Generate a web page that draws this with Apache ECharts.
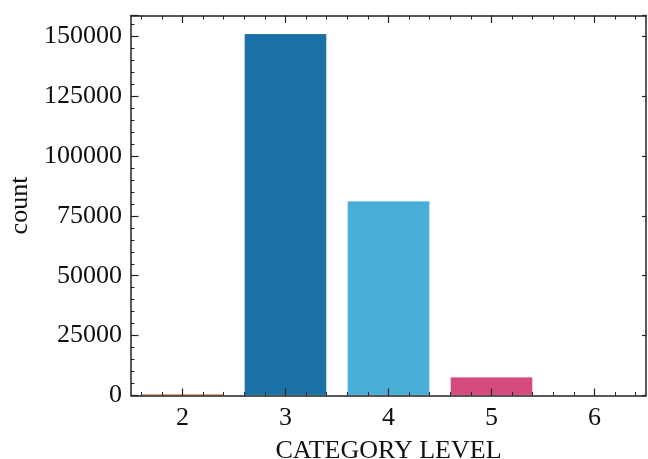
<!DOCTYPE html>
<html>
<head>
<meta charset="utf-8">
<script src="https://cdn.jsdelivr.net/npm/echarts@6/dist/echarts.min.js"></script>
<style>html,body{margin:0;padding:0;background:#fff}#c{width:648px;height:459px}</style>
</head>
<body>
<div id="c"></div>
<script>
const categories = ['2', '3', '4', '5', '6'];
const counts = [750, 151100, 81200, 7700, 20];
const barColors = ['#E8915F', '#1A71A6', '#4AAFD8', '#D6497E', '#7F7F7F'];
const yMax = 158650;
const yStep = 25000;
const minorSlots = Array.from({length: 25}, (_, i) => 'm' + i);

const FONT = 'Liberation Serif';
const AX = '#222';

const chart = echarts.init(document.getElementById('c'), null, {renderer: 'canvas'});
const hiddenLabel = {show: false};
function tickAxis(data, pos, len, width, lineShow) {
  return {
    type: 'category', data: data, position: pos, offset: 0, boundaryGap: true, z: 10,
    axisLine: {show: lineShow, onZero: false, lineStyle: {color: AX, width: 1.5}},
    axisTick: {show: true, inside: true, alignWithLabel: true, interval: 0, length: len, lineStyle: {color: AX, width: width}},
    axisLabel: hiddenLabel, splitLine: {show: false}
  };
}
const mainX = tickAxis(categories, 'bottom', 7, 1.2, true);
mainX.axisLabel = {show: true, interval: 0, fontFamily: FONT, fontSize: 26, color: '#111', margin: 10};
mainX.name = 'CATEGORY LEVEL';
mainX.nameLocation = 'middle';
mainX.nameGap = 43;
mainX.nameTextStyle = {fontFamily: FONT, fontSize: 26, color: '#111'};

chart.setOption({
  animation: false,
  backgroundColor: '#fff',
  grid: {left: 131, right: 2, top: 15.5, bottom: 63.5, containLabel: false, outerBoundsMode: 'none'},
  xAxis: [
    mainX,
    tickAxis(minorSlots, 'bottom', 3.5, 1, false),
    tickAxis(categories, 'top', 7.5, 1.2, true),
    tickAxis(minorSlots, 'top', 4, 1, false)
  ],
  yAxis: [
    {
      type: 'value', min: 0, max: yMax, interval: yStep, position: 'left', z: 10,
      axisLine: {show: true, onZero: false, lineStyle: {color: AX, width: 1.5}},
      axisTick: {show: true, inside: true, length: 7.5, lineStyle: {color: AX, width: 1.2}},
      minorTick: {show: true, splitNumber: 5, length: 3.5, lineStyle: {color: AX, width: 1}},
      axisLabel: {fontFamily: FONT, fontSize: 26, color: '#111', margin: 9, showMaxLabel: false,
                  formatter: v => String(v)},
      splitLine: {show: false}, minorSplitLine: {show: false},
      name: 'count', nameLocation: 'middle', nameGap: 97,
      nameTextStyle: {fontFamily: FONT, fontSize: 26, color: '#111'}
    },
    {
      type: 'value', min: 0, max: yMax, interval: yStep, position: 'right', z: 10,
      axisLine: {show: true, onZero: false, lineStyle: {color: AX, width: 1.5}},
      axisTick: {show: true, inside: true, length: 4, lineStyle: {color: AX, width: 1.2}},
      axisLabel: hiddenLabel, splitLine: {show: false}
    }
  ],
  series: [{
    type: 'bar', xAxisIndex: 0, yAxisIndex: 0, barWidth: '80%', z: 2,
    data: counts.map((v, i) => ({value: v, itemStyle: {color: barColors[i]}})),
    itemStyle: {borderColor: 'rgba(255,255,255,0.35)', borderWidth: 0.6}
  }]
});
</script>
</body>
</html>
